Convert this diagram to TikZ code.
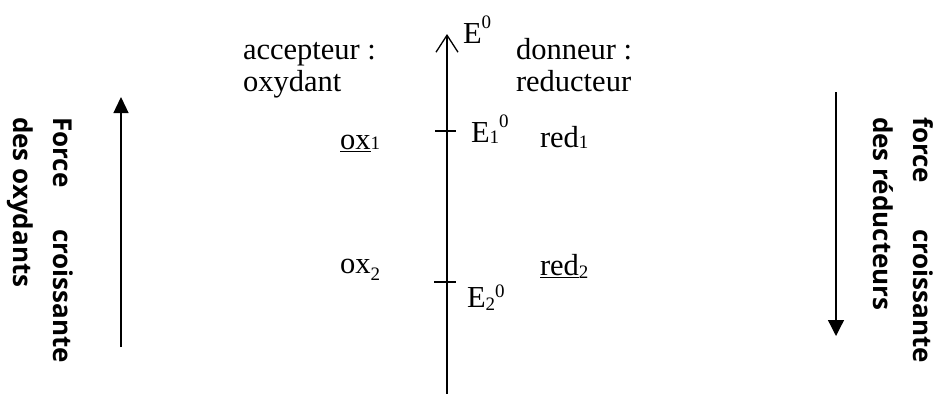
\documentclass[tikz,border=0pt]{standalone}
\usepackage{fontspec}
\setmainfont{Liberation Serif}
\newfontfamily\sidefont{Open Sans}
\usetikzlibrary{arrows.meta}
\newcommand\bigfs{\fontsize{30.5}{36}\selectfont}
\newcommand\sidefs{\fontsize{26}{32}\selectfont}
\newcommand\smfs{\fontsize{19}{22}\selectfont}
\begin{document}
\begin{tikzpicture}[x=1pt,y=-1pt,
  lbl/.style={inner sep=0pt,outer sep=0pt,anchor=base west,font=\bigfs},
  sidetxt/.style={inner sep=0pt,outer sep=0pt,anchor=base west,rotate=-90,font=\sidefs\sidefont\bfseries},
  axisline/.style={line width=1.3pt,{Straight Barb[length=17pt,width=22pt,line width=1.3pt]}-},
  force/.style={line width=1.3pt},
  tick/.style={line width=1.3pt}]
\useasboundingbox (0,0) rectangle (935,394);
% central axis
\coordinate (axtop) at (447,34);
\coordinate (axbot) at (447,394);
\draw[axisline] (axtop) -- (axbot);
\coordinate (t1a) at (435,131); \coordinate (t1b) at (456,131);
\coordinate (t2a) at (434,282); \coordinate (t2b) at (456,282);
\draw[tick] (t1a) -- (t1b);
\draw[tick] (t2a) -- (t2b);
% labels on axis
\node[lbl] (E0) at (463,43) {E\raisebox{15pt}{\smfs 0}};
\node[lbl] (E1) at (471,142) {E\raisebox{-1pt}{\smfs 1}\raisebox{15pt}{\smfs 0}};
\node[lbl] (E2) at (467,307) {E\raisebox{-3pt}{\smfs 2}\raisebox{10pt}{\smfs 0}};
% headings
\node[lbl] (acc) at (243,59.5) {accepteur :};
\node[lbl] (oxd) at (243,91) {oxydant};
\node[lbl] (don) at (516,59.5) {donneur :};
\node[lbl] (red) at (516,91) {reducteur};
% species
\node[lbl] (ox1) at (340,149) {\underline{ox}{\smfs 1}};
\node[lbl] (ox2) at (340,273) {ox\raisebox{-7pt}{\smfs 2}};
\node[lbl] (red1) at (540,147) {red\raisebox{-1.5pt}{\smfs 1}};
\node[lbl] (red2) at (540,275) {\underline{red}\raisebox{-3pt}{\smfs 2}};
% left side
\coordinate (la) at (121,347);
\coordinate (lb) at (121,97);
\draw[force,-{Triangle[length=16pt,width=15pt]}] (la) -- (lb);
\node[sidetxt] (fl1) at (53,117) {\makebox[246pt][l]{Force\hfill croissante}};
\node[sidetxt] (fl2) at (13,117) {des oxydants};
% right side
\coordinate (ra) at (836,92);
\coordinate (rb) at (836,336);
\draw[force,-{Triangle[length=16pt,width=16pt]}] (ra) -- (rb);
\node[sidetxt] (fr1) at (913,117) {\makebox[246pt][l]{force\hfill croissante}};
\node[sidetxt] (fr2) at (873,117) {des réducteurs};
\end{tikzpicture}
\end{document}
